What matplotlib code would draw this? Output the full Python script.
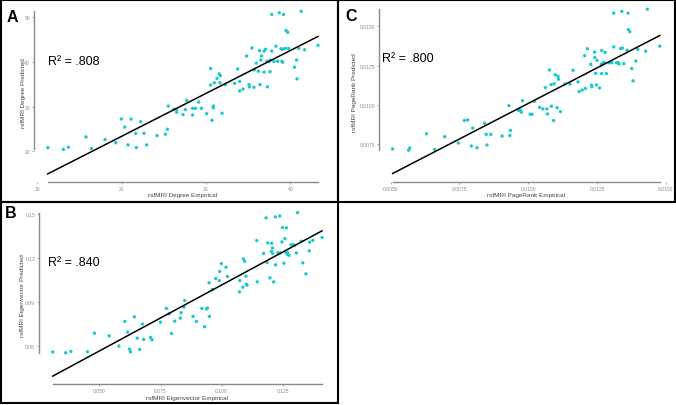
import numpy as np
import matplotlib
matplotlib.use('Agg')
import matplotlib.pyplot as plt
from matplotlib.patches import Rectangle

plt.rcParams['font.family'] = ['Liberation Sans', 'DejaVu Sans']

# Panel A - degree
deg_emp = [11.23, 13.08, 13.68, 15.77, 16.4, 18.02, 19.29, 19.96, 20.36, 20.75, 21.11, 21.66,
           21.74, 22.25, 22.65, 22.96, 24.19, 25.18, 25.42, 25.53, 26.2, 26.52, 26.52, 27.27,
           27.55, 27.71, 28.42, 28.42, 28.77, 29.13, 29.45, 30.08, 30.55, 30.71, 30.55, 30.87,
           30.87, 30.99, 31.3, 31.58, 31.7, 31.66, 31.9, 32.3, 33.4, 33.76, 34.0, 34.0, 34.4,
           34.82, 35.1, 35.14, 35.45, 35.69, 35.73, 35.97, 36.2, 36.36, 36.4, 36.5, 36.6, 36.9,
           36.9, 37.07, 37.2, 37.3, 37.5, 37.6, 37.6, 37.8, 37.8, 38.06, 38.3, 38.5, 38.7, 38.9,
           39.0, 39.1, 39.1, 39.2, 39.4, 39.5, 39.7, 39.8, 40.5, 40.75, 40.8, 41.0, 41.3, 41.7, 43.3]
deg_pred = [20.8, 20.4, 20.9, 23.2, 20.6, 22.6, 21.9, 27.2, 25.4, 21.4, 27.2, 24.0,
            20.8, 26.6, 24.0, 21.4, 23.5, 23.8, 24.9, 30.1, 29.4, 28.7, 29.3, 28.2,
            29.3, 31.4, 28.1, 29.6, 29.6, 31.0, 29.6, 28.4, 38.5, 26.9, 34.8, 29.7,
            30.1, 35.3, 36.3, 37.3, 36.9, 35.3, 28.5, 34.9, 35.2, 38.4, 35.6, 33.5, 33.9,
            41.3, 34.9, 34.4, 43.1, 34.3, 38.2, 39.7, 37.9, 42.5, 34.9, 40.4, 41.3, 37.7,
            42.4, 42.8, 40.1, 34.4, 40.1, 37.8, 40.4, 50.6, 42.4, 40.1, 43.5, 40.1, 50.97, 42.9,
            40.1, 39.9, 42.8, 50.6, 43.0, 47.0, 46.6, 43.0, 38.8, 40.4, 36.2, 43.0, 51.3, 42.7, 43.7]

# Panel C - PageRank
pr_emp = [0.00507, 0.00565, 0.00569, 0.00630, 0.00660, 0.00696, 0.00746, 0.00768, 0.00780,
          0.00793, 0.00798, 0.00814, 0.00841, 0.00847, 0.00850, 0.00864, 0.00905, 0.00930,
          0.00933, 0.00935, 0.00965, 0.00968, 0.00972, 0.00975, 0.00979, 0.01007, 0.01014,
          0.01022, 0.01041, 0.01053, 0.01062, 0.01068, 0.01070, 0.01077, 0.01083, 0.01084,
          0.01092, 0.01094, 0.01098, 0.01105, 0.01108, 0.01110, 0.01117, 0.01133, 0.01152,
          0.01163, 0.01181, 0.01185, 0.01196, 0.01205, 0.01208, 0.01215, 0.01227, 0.01230,
          0.01231, 0.01241, 0.01242, 0.01245, 0.01248, 0.01250, 0.01259, 0.01265, 0.01267,
          0.01267, 0.01272, 0.01277, 0.01279, 0.01284, 0.01294, 0.01304, 0.01311, 0.01311,
          0.01321, 0.01328, 0.01330, 0.01336, 0.01340, 0.01342, 0.01347, 0.01359, 0.01363,
          0.01364, 0.01369, 0.01376, 0.01381, 0.01391, 0.01398, 0.01427, 0.01433, 0.01478]
pr_pred = [0.00719, 0.00711, 0.00725, 0.00816, 0.00715, 0.00797, 0.00757, 0.00900, 0.00904,
           0.00738, 0.00852, 0.00727, 0.00883, 0.00812, 0.00744, 0.00812, 0.00801, 0.00995,
           0.00805, 0.00837, 0.00965, 0.00972, 0.00963, 0.00953, 0.01026, 0.00940, 0.00940,
           0.01022, 0.00984, 0.00974, 0.01110, 0.00974, 0.00942, 0.01222, 0.01129, 0.00991,
           0.00900, 0.01134, 0.01191, 0.00982, 0.01182, 0.01163, 0.00957, 0.01132, 0.01132,
           0.01220, 0.01146, 0.01085, 0.01094, 0.01313, 0.01104, 0.01357, 0.01258, 0.01125,
           0.01115, 0.01336, 0.01302, 0.01201, 0.01127, 0.01283, 0.01108, 0.01258, 0.01346,
           0.01199, 0.01268, 0.01268, 0.01334, 0.01199, 0.01268, 0.01268, 0.01584, 0.01369,
           0.01268, 0.01268, 0.01260, 0.01359, 0.01595, 0.01361, 0.01262, 0.01348, 0.01584,
           0.01479, 0.01466, 0.01231, 0.01153, 0.01279, 0.01353, 0.01342, 0.01609, 0.01374]

# Panel B - eigenvector
eig_emp = [0.0309, 0.0362, 0.0383, 0.0451, 0.0480, 0.0540, 0.0580, 0.0604, 0.0615, 0.0623,
           0.0627, 0.0643, 0.0655, 0.0665, 0.0676, 0.0681, 0.0709, 0.0715, 0.0750, 0.0774,
           0.0785, 0.0795, 0.0808, 0.0831, 0.0834, 0.0846, 0.0849, 0.0883, 0.0897, 0.0919,
           0.0930, 0.0938, 0.0942, 0.0949, 0.0950, 0.0962, 0.0976, 0.0991, 0.0992, 0.0999,
           0.1018, 0.1024, 0.1073, 0.1074, 0.1087, 0.1089, 0.1094, 0.1100, 0.1101, 0.1104,
           0.1144, 0.1146, 0.1172, 0.1182, 0.1186, 0.1189, 0.1198, 0.1204, 0.1205, 0.1208,
           0.1209, 0.1213, 0.1220, 0.1221, 0.1230, 0.1238, 0.1240, 0.1247, 0.1249, 0.1255,
           0.1259, 0.1264, 0.1265, 0.1269, 0.1270, 0.1276, 0.1284, 0.1294, 0.1299, 0.1306,
           0.1311, 0.1326, 0.1332, 0.1345, 0.1359, 0.1360, 0.1373, 0.1411]
eig_pred = [0.0557, 0.0552, 0.0561, 0.0559, 0.0686, 0.0668, 0.0598, 0.0766, 0.0693, 0.0577,
            0.0559, 0.0798, 0.0652, 0.0575, 0.0748, 0.0643, 0.0657, 0.0641, 0.0761, 0.0855,
            0.0818, 0.0684, 0.0768, 0.0789, 0.0825, 0.0864, 0.0909, 0.0800, 0.0766, 0.0855,
            0.0730, 0.0852, 0.0857, 0.1030, 0.0800, 0.0984, 0.1059, 0.1045, 0.1107, 0.1161,
            0.1136, 0.1073, 0.0968, 0.1045, 0.1000, 0.1193, 0.1177, 0.1075, 0.1020, 0.1014,
            0.1318, 0.1036, 0.1230, 0.1473, 0.1168, 0.1302, 0.1064, 0.1245, 0.1300, 0.1268,
            0.1230, 0.1036, 0.1480, 0.1152, 0.1236, 0.1486, 0.1234, 0.1309, 0.1407, 0.1164,
            0.1332, 0.1236, 0.1405, 0.1225, 0.1236, 0.1218, 0.1289, 0.1289, 0.1286, 0.1234,
            0.1509, 0.1314, 0.1166, 0.1091, 0.1248, 0.1307, 0.1320, 0.1339]

panels = [
    dict(x=deg_emp, y=deg_pred, label='A', r2='.808',
         xlab='rsfMRI Degree Empirical', ylab='rsfMRI Degree Predicted',
         xt=[10, 20, 30, 40], yt=[20, 30, 40, 50], xf='{:.0f}', yf='{:.0f}',
         pos=[0.0507, 0.5493, 0.4398, 0.4404], r2pos=(0.045, 0.677),
         xl=-0.056, yl=-0.029, letter=(7, 22)),
    dict(x=pr_emp, y=pr_pred, label='C', r2='.800',
         xlab='rsfMRI PageRank Empirical', ylab='rsfMRI PageRank Predicted',
         xt=[0.005, 0.0075, 0.01, 0.0125, 0.015], yt=[0.0075, 0.01, 0.0125, 0.015],
         xf='{:.4f}', yf='{:.4f}',
         pos=[0.5611, 0.5500, 0.4346, 0.4451], r2pos=(0.010, 0.683),
         xl=-0.057, yl=-0.077, letter=(345, 21)),
    dict(x=eig_emp, y=eig_pred, label='B', r2='.840',
         xlab='rsfMRI Eigenvector Empirical', ylab='rsfMRI Eigenvector Predicted',
         xt=[0.05, 0.075, 0.1, 0.125], yt=[0.06, 0.09, 0.12, 0.15],
         xf='{:.3f}', yf='{:.2f}',
         pos=[0.0581, 0.0510, 0.4382, 0.4429], r2pos=(0.030, 0.682),
         xl=-0.058, yl=-0.049, letter=(5, 218)),
]

W, H = 676, 406
fig = plt.figure(figsize=(6.76, 4.06), dpi=100)

for p in panels:
    x = np.array(p['x'])
    y = np.array(p['y'])
    ax = fig.add_axes(p['pos'])
    ax.scatter(x, y, s=6, color='#1FC8CC', edgecolors='none', zorder=2)
    slope, icept = np.polyfit(x, y, 1)
    xs = np.array([x.min(), x.max()])
    ax.plot(xs, icept + slope * xs, color='black', lw=1.1, zorder=3)
    ax.margins(0.05)

    for s in ['top', 'right']:
        ax.spines[s].set_visible(False)
    for s in ['left', 'bottom']:
        ax.spines[s].set_color('#8a8a8a')
        ax.spines[s].set_linewidth(1.0)
    ax.spines['left'].set_bounds(y.min(), y.max())
    ax.spines['bottom'].set_bounds(x.min(), x.max())

    ax.set_xticks(p['xt'])
    ax.set_xticklabels([p['xf'].format(v) for v in p['xt']])
    ax.set_yticks(p['yt'])
    ax.set_yticklabels([p['yf'].format(v) for v in p['yt']])
    ax.tick_params(labelsize=3.6, labelcolor='#8c8c8c', color='#8c8c8c',
                   length=1.5, width=0.5, pad=1.5)

    ax.set_xlabel(p['xlab'], fontsize=4.6, color='#444444')
    ax.set_ylabel(p['ylab'], fontsize=4.6, color='#444444')
    ax.xaxis.set_label_coords(0.5, p['xl'])
    ax.yaxis.set_label_coords(p['yl'], 0.5)

    ax.text(p['r2pos'][0], p['r2pos'][1], 'R\u00b2 = ' + p['r2'], transform=ax.transAxes,
            fontsize=9, va='center', ha='left', color='black')
    fig.text(p['letter'][0] / W, 1 - p['letter'][1] / H, p['label'],
             fontsize=11.5, fontweight='bold', va='baseline', ha='left')

# panel frames
frames = [(1, 1, 338, 202.5), (338, 1, 674.5, 202.5), (1, 202.5, 338, 403.5)]
for x0, y0, x1, y1 in frames:
    fig.add_artist(Rectangle((x0 / W, 1 - y1 / H), (x1 - x0) / W, (y1 - y0) / H,
                             transform=fig.transFigure, fill=False,
                             edgecolor='black', linewidth=1.5))

fig.savefig('out.png', dpi=100)
